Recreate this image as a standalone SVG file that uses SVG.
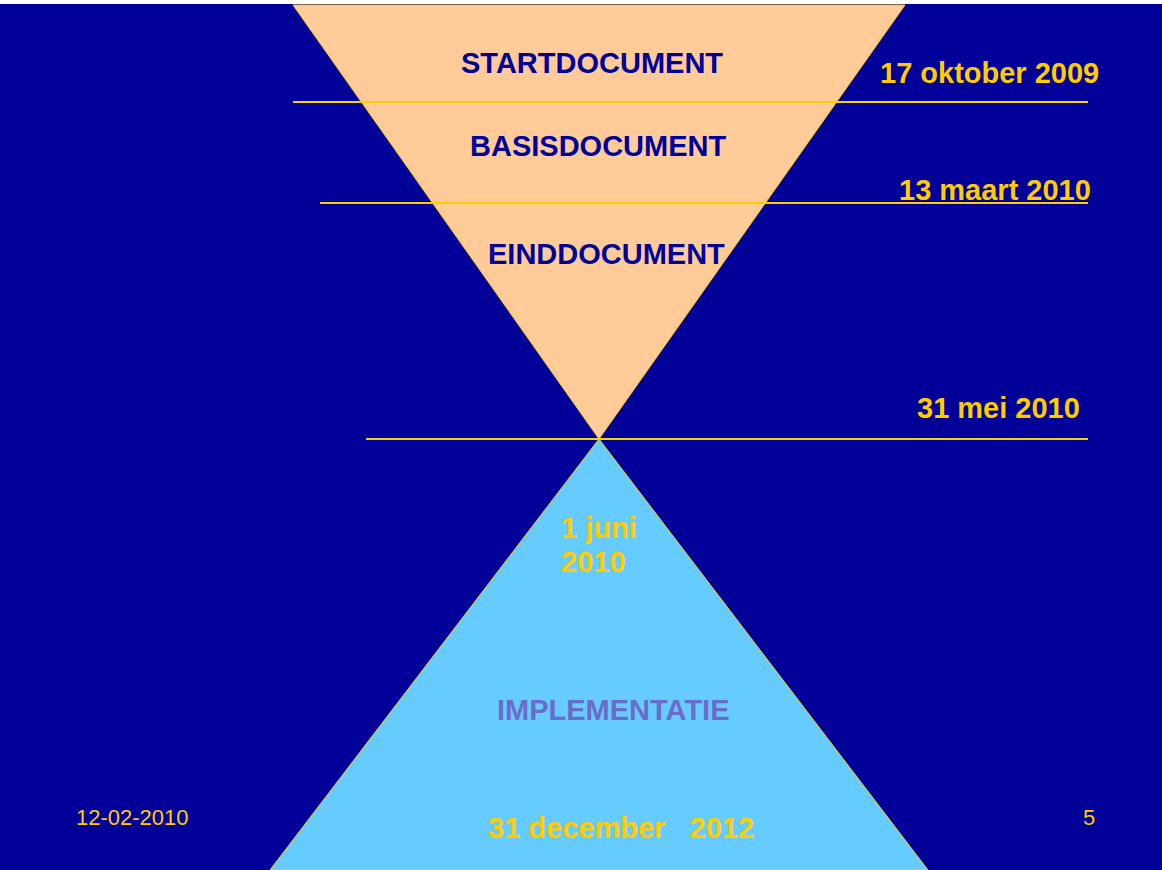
<svg xmlns="http://www.w3.org/2000/svg" width="1162" height="870" viewBox="0 0 1162 870">
<style>
.b{font-family:"Liberation Sans",Arial,sans-serif;font-weight:bold;font-size:29px}
.navy{fill:#000099}
.gold{fill:#FFCC00}
.impl{fill:#6B6BCC}
.foot{font-family:"Liberation Sans",Arial,sans-serif;font-size:22px;fill:#FFCC00}
.ln{stroke:#FFCC00;stroke-width:2;fill:none}
</style>
<rect x="0" y="0" width="1162" height="870" fill="#000099"/>
<rect x="0" y="0" width="1162" height="4" fill="#FFFFFF"/>
<g id="top-triangle">
<polygon points="293,5 905,5 599,439" fill="#FFCC99" stroke="#FFCC00" stroke-width="1"/>
</g>
<g id="bottom-triangle">
<polygon points="599,439 928,870 270,870" fill="#66CCFF" stroke="#FFCC00" stroke-width="1"/>
</g>
<g id="connectors">
<line class="ln" x1="293" y1="102" x2="1088" y2="102"/>
<line class="ln" x1="320" y1="203" x2="1088" y2="203"/>
<line class="ln" x1="366" y1="439" x2="1088" y2="439"/>
</g>
<g id="startdocument"><text class="b navy" x="461" y="73">STARTDOCUMENT</text></g>
<g id="basisdocument"><text class="b navy" x="470" y="156">BASISDOCUMENT</text></g>
<g id="einddocument"><text class="b navy" x="488" y="264">EINDDOCUMENT</text></g>
<g id="date1"><text class="b gold" x="880" y="83">17 oktober 2009</text></g>
<g id="date2"><text class="b gold" x="899" y="200">13 maart 2010</text></g>
<g id="date3"><text class="b gold" x="917" y="418">31 mei 2010</text></g>
<g id="date4"><text class="b gold" x="561" y="538">1 juni</text><text class="b gold" x="561" y="572">2010</text></g>
<g id="implementatie"><text class="b impl" x="497" y="720">IMPLEMENTATIE</text></g>
<g id="date5"><text class="b gold" x="488" y="838" xml:space="preserve" style="white-space:pre">31 december   2012</text></g>
<g id="footer"><text class="foot" x="76" y="825">12-02-2010</text><text class="foot" x="1083" y="825">5</text></g>
</svg>
